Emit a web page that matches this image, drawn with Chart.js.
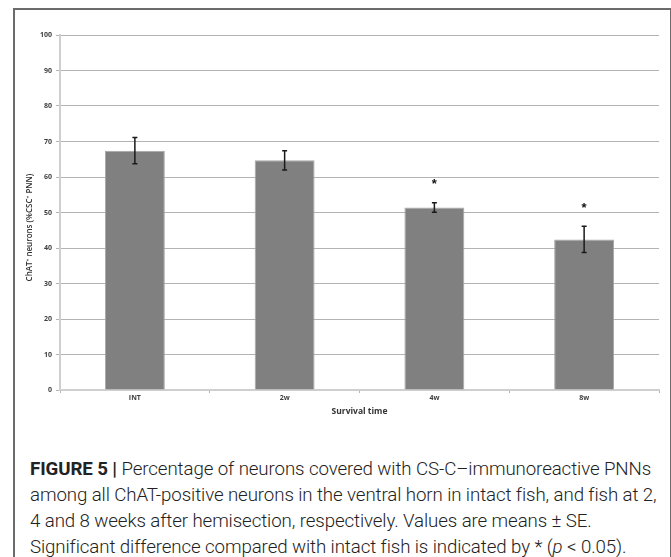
<!DOCTYPE html>
<html>
<head>
<meta charset="utf-8">
<script src="https://cdn.jsdelivr.net/npm/chart.js@4"></script>
<style>
  body { margin: 0; background: #fff; width: 671px; height: 557px; overflow: hidden; position: relative; }
  #frame { position: absolute; left: 13px; top: 8px; width: 655px; height: 600px; border: 2px solid #6b6b6b; border-bottom: none; }
  #chart { position: absolute; left: 15px; top: 10px; }
  #caption { position: absolute; left: 30px; top: 456px; font-family: Roboto, "Liberation Sans", sans-serif; font-weight: 300; font-size: 18.7px; line-height: 26px; color: #222; white-space: nowrap; letter-spacing: -0.1px; }
  #caption b { font-weight: 700; }
</style>
</head>
<body>
<div id="frame"></div>
<canvas id="chart" width="655" height="420"></canvas>
<div id="caption">
<b>FIGURE 5 |</b> Percentage of neurons covered with CS-C–immunoreactive PNNs<br>
among all ChAT-positive neurons in the ventral horn in intact fish, and fish at 2,<br>
4 and 8 weeks after hemisection, respectively. Values are means ± SE.<br>
Significant difference compared with intact fish is indicated by * (<i>p</i> &lt; 0.05).
</div>
<script>
const categories = ["INT", "2w", "4w", "8w"];
const means = [67.4, 64.7, 51.4, 42.4];
const errors = [3.7, 2.7, 1.35, 3.7];
const significant = [false, false, true, true];
const yTicks = [0, 10, 20, 30, 40, 50, 60, 70, 80, 90, 100];

const tickFont = { family: "'Open Sans', 'Liberation Sans', sans-serif", size: 7, weight: "700" };

const errorBars = {
  id: "errorBars",
  afterDatasetsDraw(chart) {
    const { ctx, scales: { x, y } } = chart;
    ctx.save();
    ctx.strokeStyle = "#1a1a1a";
    ctx.lineWidth = 1.5;
    means.forEach((m, i) => {
      const cx = x.getPixelForValue(i);
      const top = y.getPixelForValue(m + errors[i]);
      const bot = y.getPixelForValue(m - errors[i]);
      ctx.beginPath();
      ctx.moveTo(cx, top); ctx.lineTo(cx, bot);
      ctx.moveTo(cx - 2.5, top); ctx.lineTo(cx + 2.5, top);
      ctx.moveTo(cx - 2.5, bot); ctx.lineTo(cx + 2.5, bot);
      ctx.stroke();
      if (significant[i]) {
        ctx.fillStyle = "#111";
        ctx.font = "bold 13px 'Liberation Sans', sans-serif";
        ctx.textAlign = "center";
        ctx.textBaseline = "middle";
        ctx.fillText("*", cx, top - 18);
      }
    });
    // y axis title
    ctx.fillStyle = "#333";
    ctx.font = "600 8px 'Open Sans', 'Liberation Sans', sans-serif";
    ctx.translate(15, (chart.chartArea.top + chart.chartArea.bottom) / 2 + 15);
    ctx.rotate(-Math.PI / 2);
    ctx.textAlign = "center";
    ctx.textBaseline = "middle";
    ctx.fillText("ChAT⁺ neurons (%CSC⁺ PNN)", 0, 0);
    ctx.restore();
  }
};

new Chart(document.getElementById("chart"), {
  type: "bar",
  data: {
    labels: categories,
    datasets: [{
      data: means,
      backgroundColor: "#808080",
      borderColor: "#a6a6a6",
      borderWidth: 1,
      barPercentage: 0.4,
      categoryPercentage: 1
    }]
  },
  options: {
    responsive: false,
    animation: false,
    devicePixelRatio: 1,
    layout: { padding: { top: 25, right: 11, left: 0, bottom: 9 } },
    plugins: { legend: { display: false }, tooltip: { enabled: false } },
    scales: {
      y: {
        min: 0, max: 100,
        afterBuildTicks(axis) { axis.ticks = yTicks.map(v => ({ value: v })); },
        afterFit(axis) { axis.width = 45; },
        ticks: { font: tickFont, color: "#404040", padding: 4, autoSkip: false },
        grid: { color: "#b3b3b3", lineWidth: 1, tickLength: 4 },
        border: { color: "#cfcfcf", width: 2 }
      },
      x: {
        afterFit(axis) { axis.height = 31; },
        ticks: { font: tickFont, color: "#404040", padding: 1 },
        grid: { offset: true, drawOnChartArea: false, tickLength: 3, color: "#b3b3b3" },
        border: { color: "#cfcfcf", width: 2 },
        title: { display: true, text: "Survival time", color: "#333", padding: { top: 0 },
          font: { family: "'Open Sans', 'Liberation Sans', sans-serif", size: 8.5, weight: "700" } }
      }
    }
  },
  plugins: [errorBars]
});
</script>
</body>
</html>
